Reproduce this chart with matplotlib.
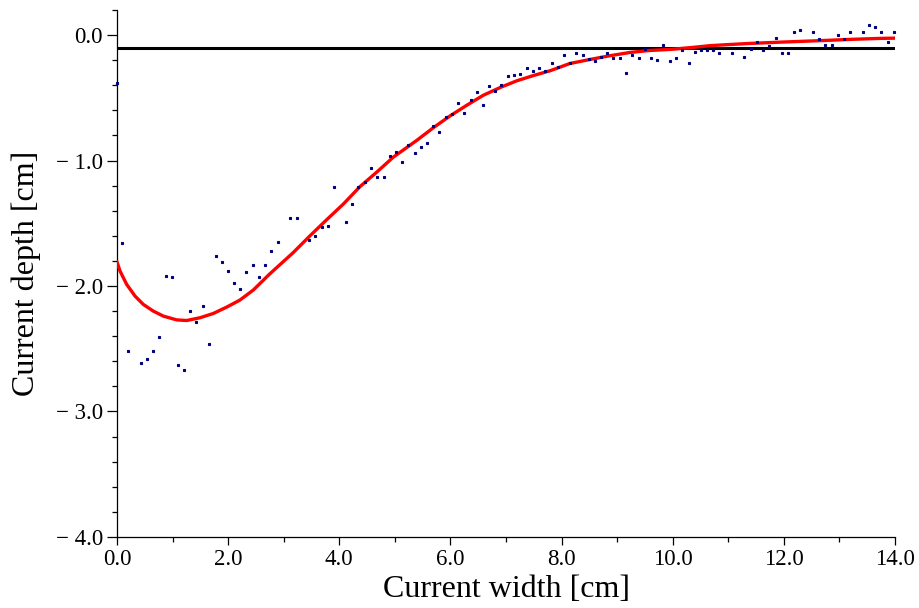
import matplotlib
matplotlib.use('Agg')
import matplotlib.pyplot as plt
from matplotlib.ticker import FixedLocator, MultipleLocator

plt.rcParams['font.family'] = ['Liberation Serif', 'DejaVu Serif']

# measured points (blue squares)
meas_x = [0.0, 0.085, 0.203, 0.426, 0.534, 0.653, 0.761, 0.876, 0.984, 1.098,
          1.211, 1.319, 1.427, 1.548, 1.656, 1.776, 1.884, 1.997, 2.105, 2.219,
          2.327, 2.442, 2.555, 2.663, 2.771, 2.892, 3.113, 3.234, 3.461, 3.569,
          3.683, 3.792, 3.9, 4.127, 4.234, 4.342, 4.457, 4.576, 4.684, 4.799,
          4.907, 5.021, 5.134, 5.242, 5.357, 5.471, 5.579, 5.692, 5.8, 5.92,
          6.023, 6.142, 6.25, 6.365, 6.473, 6.586, 6.694, 6.808, 6.916, 7.036,
          7.144, 7.258, 7.373, 7.486, 7.6, 7.707, 7.822, 7.93, 8.038, 8.157,
          8.265, 8.38, 8.494, 8.602, 8.71, 8.823, 8.931, 9.046, 9.16, 9.273,
          9.388, 9.502, 9.615, 9.723, 9.831, 9.951, 10.065, 10.173, 10.288, 10.396,
          10.509, 10.617, 10.725, 10.839, 11.067, 11.288, 11.403, 11.517, 11.625, 11.738,
          11.853, 11.961, 12.075, 12.188, 12.296, 12.525, 12.638, 12.746, 12.861, 12.975,
          13.083, 13.196, 13.425, 13.533, 13.646, 13.754, 13.869, 13.977]
meas_y = [-0.384, -1.658, -2.518, -2.614, -2.578, -2.518, -2.406, -1.92, -1.926, -2.632,
          -2.666, -2.198, -2.288, -2.162, -2.466, -1.76, -1.81, -1.88, -1.974, -2.02,
          -1.89, -1.834, -1.928, -1.834, -1.72, -1.65, -1.462, -1.456, -1.63, -1.602,
          -1.528, -1.522, -1.208, -1.488, -1.344, -1.208, -1.173, -1.058, -1.133, -1.133,
          -0.963, -0.93, -1.013, -0.88, -0.941, -0.896, -0.861, -0.723, -0.773, -0.651,
          -0.627, -0.539, -0.624, -0.515, -0.453, -0.555, -0.405, -0.445, -0.395, -0.325,
          -0.32, -0.307, -0.261, -0.285, -0.264, -0.285, -0.221, -0.253, -0.157, -0.221,
          -0.141, -0.157, -0.195, -0.208, -0.173, -0.144, -0.181, -0.181, -0.299, -0.163,
          -0.181, -0.115, -0.181, -0.203, -0.083, -0.205, -0.184, -0.12, -0.221, -0.139,
          -0.12, -0.12, -0.12, -0.144, -0.144, -0.179, -0.112, -0.059, -0.123, -0.085,
          -0.021, -0.144, -0.144, 0.021, 0.043, 0.021, -0.035, -0.08, -0.08, 0.0,
          -0.035, 0.021, 0.021, 0.083, 0.064, 0.021, -0.059, 0.021]

# fitted curve (red)
fit_x = [0.0, 0.054, 0.174, 0.324, 0.474, 0.653, 0.834, 1.074, 1.254, 1.494,
         1.733, 1.974, 2.213, 2.453, 2.741, 3.173, 3.473, 3.773, 4.073, 4.373,
         4.673, 4.973, 5.393, 5.692, 5.992, 6.293, 6.592, 6.892, 7.193, 7.492,
         7.792, 8.15, 8.51, 8.87, 9.23, 9.59, 9.95, 10.31, 10.67, 10.97,
         11.39, 11.99, 12.65, 13.19, 13.73, 14.0]
fit_y = [-1.808, -1.88, -1.987, -2.08, -2.147, -2.2, -2.24, -2.27, -2.275, -2.253,
         -2.219, -2.168, -2.112, -2.032, -1.907, -1.733, -1.6, -1.472, -1.347, -1.208,
         -1.093, -0.973, -0.84, -0.739, -0.645, -0.56, -0.48, -0.419, -0.365, -0.323,
         -0.285, -0.227, -0.195, -0.165, -0.139, -0.123, -0.115, -0.101, -0.085, -0.077,
         -0.067, -0.056, -0.045, -0.035, -0.027, -0.025]

ref_level = -0.10

x_ticks = [0, 2, 4, 6, 8, 10, 12, 14]
x_tick_labels = ['0.0', '2.0', '4.0', '6.0', '8.0', '10.0', '12.0', '14.0']
y_ticks = [-4, -3, -2, -1, 0]
y_tick_labels = ['\u2212 4.0', '\u2212 3.0', '\u2212 2.0', '\u2212 1.0', '0.0']

fig = plt.figure(figsize=(9.19, 6.08), dpi=100)
ax = fig.add_axes([0.1273, 0.1168, 0.8466, 0.8669])

ax.axhline(ref_level, color='black', lw=2.2, zorder=2)
ax.plot(fit_x, fit_y, color='red', lw=2.4, zorder=3)
ax.plot(meas_x, meas_y, ls='none', marker='s', ms=2.0, color='#000080',
        mec='#000080', mew=0.8, zorder=4, clip_on=False)

ax.set_xlim(0, 14)
ax.set_ylim(-4, 0.2)

ax.xaxis.set_major_locator(FixedLocator(x_ticks))
ax.set_xticklabels(x_tick_labels)
ax.xaxis.set_minor_locator(MultipleLocator(1))
ax.yaxis.set_major_locator(FixedLocator(y_ticks))
ax.set_yticklabels(y_tick_labels)
ax.yaxis.set_minor_locator(MultipleLocator(0.2))

for s in ['top', 'right']:
    ax.spines[s].set_visible(False)
for s in ['left', 'bottom']:
    ax.spines[s].set_linewidth(0.9)

ax.tick_params(axis='both', which='major', direction='out', length=6, width=0.9,
               labelsize=16.5, pad=3)
ax.tick_params(axis='both', which='minor', direction='out', length=3.5, width=0.9)
ax.tick_params(axis='y', which='major', length=7)

ax.set_xlabel('Current width [cm]', fontsize=23, labelpad=3)
ax.set_ylabel('Current depth [cm]', fontsize=23, labelpad=11)

fig.savefig('out.png', dpi=100)
